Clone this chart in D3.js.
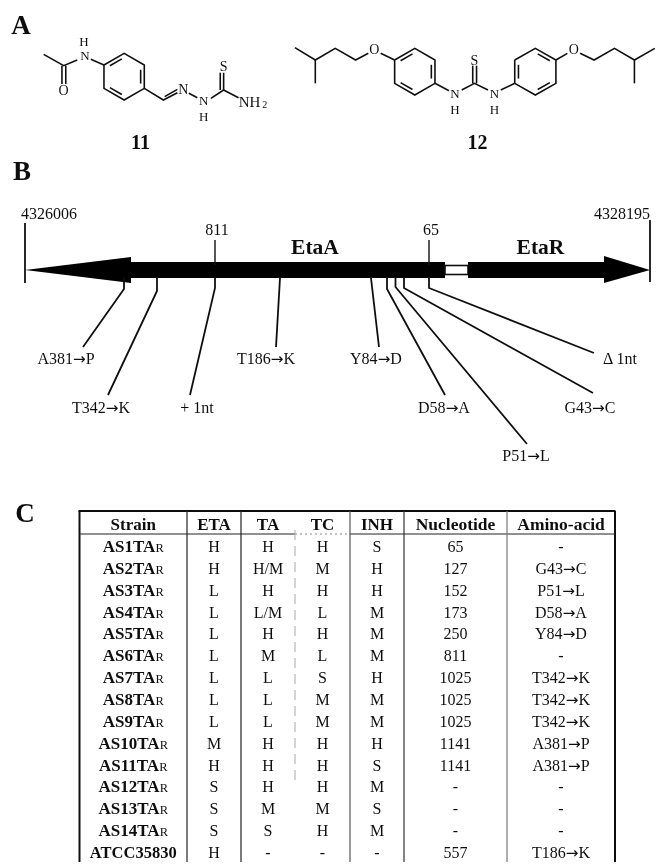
<!DOCTYPE html>
<html><head><meta charset="utf-8">
<script src="https://cdnjs.cloudflare.com/ajax/libs/d3/7.8.5/d3.min.js"></script>
<style>html,body{margin:0;background:#fff}svg{display:block}text{font-family:"Liberation Serif",serif;fill:#111}</style>
</head><body><svg id="c" width="662" height="864"><defs><filter id="soft" x="0" y="0" width="100%" height="100%"><feGaussianBlur stdDeviation="0.3"/></filter></defs></svg>
<script>
// ---- Data ----
const strains=["AS1TA","AS2TA","AS3TA","AS4TA","AS5TA","AS6TA","AS7TA","AS8TA","AS9TA","AS10TA","AS11TA","AS12TA","AS13TA","AS14TA","ATCC35830"];
const columns=["Strain","ETA","TA","TC","INH","Nucleotide","Amino-acid"];
const eta=["H","H","L","L","L","L","L","L","L","M","H","S","S","S","H"];
const ta=["H","H/M","H","L/M","H","M","L","L","L","H","H","H","M","S","-"];
const tc=["H","M","H","L","H","L","S","M","M","H","H","H","M","H","-"];
const inh=["S","H","H","M","M","M","H","M","M","H","S","M","S","M","-"];
const nucleotide=["65","127","152","173","250","811","1025","1025","1025","1141","1141","-","-","-","557"];
const aminoAcid=["-","G43→C","P51→L","D58→A","Y84→D","-","T342→K","T342→K","T342→K","A381→P","A381→P","-","-","-","T186→K"];
const mutationNt=[1141,1025,811,557,250,173,152,127,65];
const mutationLabels=["A381→P","T342→K","+ 1nt","T186→K","Y84→D","D58→A","P51→L","G43→C","Δ 1nt"];
const genomeEnds=["4326006","4328195"];
const siteLabels=[811,65];
const geneLabels=["EtaA","EtaR"];
const compoundLabels=["11","12"];

// ---- Layout (kept apart from the data) ----
const svg=d3.select("#c");
const root=svg.append("g").attr("filter","url(#soft)");
root.append("rect").attr("width",662).attr("height",864).attr("fill","#fff");
const line=d3.line();
const ntX=d3.scaleLinear().domain([65,127,152,173,250,557,811,1025,1141]).range([429,404,395.5,387,371,280,215,157,124]);
const leaderEnds=[[83,347],[108,395],[190,395],[276,347],[379,347],[445,395],[527,444],[593,393],[594,353]];
const leaderBend=[289,291,288,278,278,289,287,288,288];
const labelPos=[[66,364],[101,413],[197,413],[266,364],[376,364],[444,413],[526,461],[590,413],[620,364]];

function txt(g,t,x,y,size,opt={}){
  const n=g.append("text").attr("x",x).attr("y",y).attr("font-size",size)
   .attr("text-anchor",opt.anchor||"middle").attr("font-weight",opt.bold?"bold":"normal");
  const parts=String(t).split("→");
  n.append("tspan").text(parts[0]);
  if(parts.length>1){
    n.append("tspan").attr("font-family","DejaVu Sans").attr("font-size",size*.95).text("→");
    n.append("tspan").text(parts[1]);
  }
  return n;
}
// Panel letters
[["A",21,34],["B",22,180],["C",25,522]].forEach(d=>txt(root,d[0],d[1],d[2],27,{bold:true}));

// ---- Panel A: molecules, drawn in a normalised drawing space ----
const mx=d3.scaleLinear([0,1560],[0,662]), my=d3.scaleLinear([0,600],[0,200]);
const ring=(x0,x1,y0,y1,y2,y3)=>[[x0,y1],[(x0+x1)/2,y0],[x1,y1],[x1,y2],[(x0+x1)/2,y3],[x0,y2]];
const mol=root.append("g");
function chain(points,w=1.6){
  mol.append("path").attr("d",line(points.map(p=>[mx(p[0]),my(p[1])]))).attr("fill","none").attr("stroke","#111").attr("stroke-width",w);
}
function ringPath(r,inner){
  chain([...r,r[0]]);
  inner.forEach(i=>{
    const a=r[i],b=r[(i+1)%6],cx=d3.mean(r,p=>p[0]),cy=d3.mean(r,p=>p[1]);
    const t=.18,s=.14;
    const q=p=>[p[0]+(cx-p[0])*t,p[1]+(cy-p[1])*t];
    const qa=q(a),qb=q(b);
    chain([[qa[0]+(qb[0]-qa[0])*s,qa[1]+(qb[1]-qa[1])*s],[qb[0]+(qa[0]-qb[0])*s,qb[1]+(qa[1]-qb[1])*s]]);
  });
}
const atom=(t,x,y,sz=13)=>txt(mol,t,mx(x),my(y)+sz*.34,sz);
// compound 11
chain([[103,163],[150,197],[182,180]]);
chain([[146,197],[146,252]]);chain([[155,197],[155,252]]);
chain([[214,178],[245,195]]);
ringPath(ring(245,340,160,195,265,300),[0,2,4]);
chain([[340,265],[385,300],[418,278]]);chain([[388,290],[418,268]]);
chain([[445,280],[465,293]]);
chain([[497,295],[527,270],[527,218]]);chain([[519,270],[519,218]]);
chain([[527,270],[562,293]]);
atom("H",198,124);atom("N",200,168);atom("O",150,270,14);atom("N",432,268,14);atom("N",480,303);atom("H",480,349);atom("S",527,200,14);
atom("NH",588,307,15);txt(mol,"2",mx(624),my(323),10);
// compound 12
chain([[695,143],[743,180],[790,145],[838,180],[868,160]]);
chain([[743,180],[743,250]]);
chain([[897,160],[930,180]]);
ringPath(ring(930,1025,145,180,250,285),[0,2,4]);
chain([[1025,250],[1058,272]]);chain([[1088,270],[1118,250],[1150,270]]);
chain([[1114,250],[1114,197]]);chain([[1123,250],[1123,197]]);
chain([[1180,270],[1213,250]]);
ringPath(ring(1213,1310,145,180,250,285),[5,1,3]);
chain([[1310,180],[1337,160]]);
chain([[1367,160],[1400,180],[1448,145],[1495,180],[1543,145]]);
chain([[1495,180],[1495,250]]);
atom("O",882,147,14);atom("S",1118,180,14);atom("N",1072,282);atom("H",1072,328);atom("N",1165,282);atom("H",1165,328);atom("O",1352,147,14);
[[331,compoundLabels[0]],[1125,compoundLabels[1]]].forEach(d=>txt(root,d[1],mx(d[0]),149,20,{bold:true}));

// ---- Panel B: gene map ----
const map=root.append("g");
const yAxis=270;
[[25,223,283],[650,220,282]].forEach(d=>map.append("line").attr("x1",d[0]).attr("x2",d[0]).attr("y1",d[1]).attr("y2",d[2]).attr("stroke","#111").attr("stroke-width",1.8));
txt(map,genomeEnds[0],49,219,16);txt(map,genomeEnds[1],622,219,16);
const poly=pts=>map.append("path").attr("d",line(pts)+"Z").attr("fill","#050505");
poly([[25,yAxis],[131,257],[131,262],[445,262],[445,278],[131,278],[131,283]]);
map.append("rect").attr("x",445).attr("y",265.5).attr("width",23).attr("height",9).attr("fill","#fff").attr("stroke","#111").attr("stroke-width",1.6);
poly([[468,262],[604,262],[604,256],[650,yAxis],[604,283],[604,278],[468,278]]);
siteLabels.forEach(n=>{
  map.append("line").attr("x1",ntX(n)).attr("x2",ntX(n)).attr("y1",240).attr("y2",265).attr("stroke","#111").attr("stroke-width",1.4);
  txt(map,n,ntX(n)+2,235,16);
});
txt(map,geneLabels[0],315,254,21.5,{bold:true});txt(map,geneLabels[1],540.5,254,21.5,{bold:true});
mutationNt.forEach((n,i)=>{
  const x=ntX(n);
  map.append("path").attr("d",line([[x,277],[x,leaderBend[i]],leaderEnds[i]])).attr("fill","none").attr("stroke","#111").attr("stroke-width",1.8);
  txt(map,mutationLabels[i],labelPos[i][0],labelPos[i][1],16);
});

// ---- Panel C: table ----
const tbl=root.append("g");
const colEdges=[79.5,187,241,295,350,404,507,615];
const tblTop=511,headY=534,tblBottom=862;
const rowY=d3.scalePoint().domain(strains).range([552,858]);
const colX=i=>(colEdges[i]+colEdges[i+1])/2;
const edge=(x1,y1,x2,y2,c,w,dash)=>tbl.append("line").attr("x1",x1).attr("y1",y1).attr("x2",x2).attr("y2",y2).attr("stroke",c).attr("stroke-width",w).attr("stroke-dasharray",dash||null);
edge(78.5,tblTop,615.5,tblTop,"#111",2);
edge(colEdges[0],tblTop,colEdges[0],tblBottom,"#111",2);
edge(colEdges[7],tblTop,colEdges[7],tblBottom,"#111",2);
edge(79,headY,295,headY,"#222",1);edge(295,headY,350,headY,"#888",1,"2 3");edge(350,headY,615,headY,"#222",1);
edge(colEdges[1],tblTop,colEdges[1],tblBottom,"#222",1.2);
edge(colEdges[2],tblTop,colEdges[2],tblBottom,"#222",1.2);
edge(colEdges[3],530,colEdges[3],782,"#aaa",1,"10 6");
edge(colEdges[4],tblTop,colEdges[4],tblBottom,"#555",1.2);
edge(colEdges[5],tblTop,colEdges[5],tblBottom,"#333",1.2);
edge(colEdges[6],tblTop,colEdges[6],tblBottom,"#777",1.2);
columns.forEach((c,i)=>txt(tbl,c,colX(i),530,i>=5?17.5:17,{bold:true}));
strains.forEach((s,r)=>{
  const t=txt(tbl,s,colX(0),rowY(s),s.startsWith("ATCC")?16.5:17,{bold:true});
  if(s.startsWith("AS")) t.append("tspan").attr("font-size",12.5).attr("font-weight","normal").text("R");
  [eta,ta,tc,inh,nucleotide,aminoAcid].forEach((arr,c)=>txt(tbl,arr[r],colX(c+1),rowY(s),16));
});
</script></body></html>
